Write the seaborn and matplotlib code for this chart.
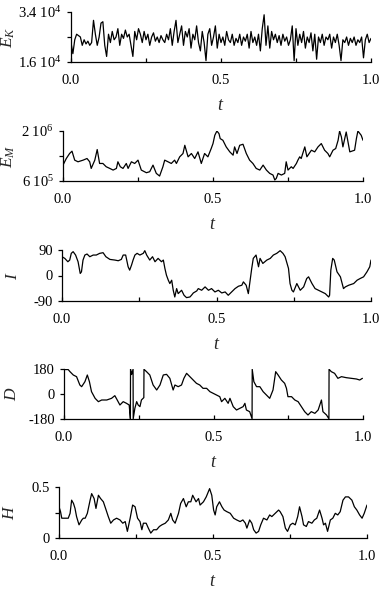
import numpy as np
import pandas as pd
import matplotlib
matplotlib.use("Agg")
import matplotlib.pyplot as plt
import seaborn as sns

sns.set_style("ticks")
plt.rcParams['font.family'] = ['Liberation Serif', 'DejaVu Serif']
plt.rcParams['mathtext.fontset'] = 'custom'
plt.rcParams['mathtext.rm'] = 'Liberation Serif'
plt.rcParams['mathtext.it'] = 'Liberation Serif:italic'

# ---------------- data ----------------
# kinetic energy, units of 1e4, uniformly sampled in t
EK = [2.3, 1.9, 2.4, 2.6, 2.55, 2.5, 2.2, 2.4, 2.25, 2.35,
      2.2, 2.3, 3.1, 2.6, 2.2, 2.5, 3.0, 3.05, 2.2, 1.8,
      2.6, 2.3, 2.7, 2.4, 2.5, 2.8, 2.2, 2.6, 2.45, 2.75,
      2.5, 2.6, 2.2, 1.8, 2.7, 2.4, 2.8, 2.6, 2.3, 2.7,
      2.4, 2.6, 2.2, 2.5, 2.65, 2.35, 2.5, 2.3, 2.55, 2.4,
      2.3, 2.6, 2.4, 2.8, 2.2, 2.7, 3.1, 2.3, 2.6, 2.9,
      2.2, 2.7, 2.5, 2.8, 2.1, 2.6, 2.4, 2.9, 2.3, 2.0,
      2.7, 2.3, 1.65, 2.6, 2.8, 2.2, 2.5, 2.9, 2.1, 2.6,
      2.3, 2.5, 2.2, 2.7, 2.4, 2.3, 2.6, 2.2, 2.45, 2.3,
      2.6, 2.2, 2.5, 2.35, 2.6, 2.1, 2.7, 2.3, 2.5, 2.2,
      2.6, 2.0, 2.8, 3.3, 2.2, 2.9, 2.1, 2.7, 2.4, 2.6,
      2.3, 2.55, 2.2, 2.6, 2.35, 2.5, 2.2, 2.4, 2.9, 1.65,
      2.8, 2.2, 2.6, 2.3, 2.7, 2.1, 2.5, 2.3, 2.65, 2.0,
      2.6, 1.7, 2.5, 2.3, 2.6, 2.2, 2.5, 2.4, 2.6, 2.1,
      2.5, 2.3, 2.6, 2.2, 1.65, 2.4, 2.3, 2.5, 2.2, 2.45,
      2.3, 2.5, 2.2, 2.4, 2.3, 2.5, 1.75, 2.4, 2.6, 2.3,
      2.45]
t_EK = np.linspace(0, 1, len(EK))

# magnetic energy, units of 1e5
t_EM = [0.000, 0.011, 0.022, 0.030, 0.039, 0.050, 0.067, 0.080, 0.089, 0.094,
        0.106, 0.114, 0.122, 0.133, 0.144, 0.156, 0.167, 0.178, 0.183, 0.191,
        0.200, 0.211, 0.217, 0.228, 0.239, 0.250, 0.261, 0.278, 0.289, 0.300,
        0.311, 0.322, 0.333, 0.339, 0.350, 0.361, 0.372, 0.378, 0.389, 0.400,
        0.406, 0.417, 0.428, 0.439, 0.450, 0.461, 0.472, 0.483, 0.494, 0.500,
        0.506, 0.513, 0.520, 0.524, 0.533, 0.544, 0.556, 0.567, 0.572, 0.580,
        0.589, 0.600, 0.611, 0.622, 0.633, 0.644, 0.656, 0.667, 0.678, 0.689,
        0.700, 0.706, 0.711, 0.717, 0.728, 0.739, 0.744, 0.750, 0.761, 0.767,
        0.778, 0.783, 0.789, 0.794, 0.806, 0.813, 0.828, 0.839, 0.850, 0.861,
        0.872, 0.883, 0.889, 0.900, 0.909, 0.917, 0.922, 0.928, 0.933, 0.944,
        0.956, 0.972, 0.978, 0.983, 0.994, 1.000]
EM = [10.45, 12.3, 13.7, 14.35, 11.84, 11.38, 11.84, 12.3, 11.38, 9.52,
      11.84, 14.81, 10.91, 10.91, 9.99, 9.52, 9.06, 9.52, 11.38, 9.99,
      9.52, 10.91, 9.52, 11.38, 10.91, 11.84, 9.06, 8.32, 8.6, 10.45,
      8.13, 7.39, 9.99, 11.84, 11.38, 10.91, 11.84, 10.91, 12.77, 13.7,
      16.0, 12.77, 13.7, 12.3, 14.16, 10.91, 13.7, 12.77, 15.09, 16.48,
      18.8, 20.0, 19.26, 17.87, 17.4, 15.55, 14.16, 13.23, 15.55, 13.7,
      16.0, 16.29, 13.7, 11.84, 10.91, 9.52, 9.06, 10.45, 9.06, 8.13,
      7.67, 6.28, 6.74, 8.13, 7.67, 8.13, 11.38, 9.06, 9.99, 9.52,
      10.91, 11.84, 12.77, 12.3, 15.55, 12.77, 14.62, 14.16, 15.55, 16.48,
      14.62, 13.7, 12.77, 14.62, 15.09, 17.4, 20.0, 18.33, 15.55, 19.72,
      14.16, 14.62, 17.87, 20.0, 18.8, 17.4]

# inclination, degrees
t_I = [0.000, 0.009, 0.019, 0.025, 0.030, 0.036, 0.044, 0.052, 0.059, 0.063,
       0.068, 0.074, 0.081, 0.090, 0.101, 0.111, 0.122, 0.133, 0.142, 0.155,
       0.171, 0.182, 0.192, 0.198, 0.206, 0.214, 0.219, 0.225, 0.230, 0.236,
       0.243, 0.252, 0.263, 0.268, 0.274, 0.284, 0.293, 0.301, 0.311, 0.322,
       0.328, 0.333, 0.338, 0.344, 0.349, 0.355, 0.360, 0.365, 0.371, 0.376,
       0.387, 0.395, 0.403, 0.414, 0.419, 0.425, 0.436, 0.441, 0.452, 0.463,
       0.474, 0.484, 0.495, 0.506, 0.517, 0.528, 0.538, 0.549, 0.560, 0.571,
       0.582, 0.587, 0.596, 0.603, 0.606, 0.614, 0.619, 0.628, 0.636, 0.641,
       0.650, 0.663, 0.674, 0.684, 0.695, 0.706, 0.715, 0.722, 0.733, 0.738,
       0.744, 0.749, 0.760, 0.771, 0.782, 0.792, 0.798, 0.809, 0.819, 0.830,
       0.841, 0.852, 0.863, 0.866, 0.870, 0.876, 0.881, 0.890, 0.901, 0.911,
       0.917, 0.928, 0.944, 0.955, 0.965, 0.976, 0.987, 0.996, 1.000]
I = [66.3, 60.4, 48.6, 54.5, 78.2, 84.1, 72.2, 48.6, 7.1, 13.0,
     54.5, 72.2, 75.8, 66.3, 72.2, 72.2, 78.2, 80.5, 66.3, 56.8,
     54.5, 52.1, 56.8, 72.2, 72.2, 30.8, 19.0, 36.7, 54.5, 72.2,
     78.2, 72.2, 78.2, 87.6, 72.2, 54.5, 66.3, 48.6, 60.4, 48.6,
     54.5, 24.9, 1.2, -16.6, -28.4, -16.6, -52.1, -75.8, -46.2, -63.9,
     -52.1, -69.8, -78.1, -75.8, -69.8, -61.6, -54.5, -46.2, -52.1, -40.2,
     -52.1, -46.2, -58.0, -52.1, -61.6, -58.0, -69.8, -58.0, -46.2, -37.9,
     -34.3, -22.5, -34.3, -63.9, -40.2, 24.9, 60.4, 72.2, 30.8, 60.4,
     42.6, 54.5, 60.4, 72.2, 78.2, 87.6, 78.2, 66.3, 24.9, -28.4,
     -52.1, -58.0, -28.4, -52.1, -40.2, -10.6, -4.7, -28.4, -46.2, -52.1,
     -58.0, -63.9, -75.8, -69.8, 19.0, 60.4, 54.5, 13.0, -4.7, -46.2,
     -40.2, -34.3, -28.4, -16.6, -10.6, -4.7, 13.0, 30.8, 54.5]

# declination, degrees (wraps at +-180)
t_D = [0.000, 0.014, 0.020, 0.031, 0.042, 0.053, 0.059, 0.070, 0.078, 0.085,
       0.092, 0.104, 0.115, 0.126, 0.143, 0.159, 0.170, 0.178, 0.187, 0.198,
       0.209, 0.218, 0.222, 0.2225, 0.226, 0.231, 0.2315, 0.237, 0.243, 0.248,
       0.254, 0.259, 0.267, 0.2675, 0.276, 0.287, 0.298, 0.310, 0.321, 0.332,
       0.343, 0.354, 0.365, 0.371, 0.382, 0.393, 0.401, 0.410, 0.421, 0.432,
       0.443, 0.454, 0.465, 0.477, 0.488, 0.499, 0.510, 0.521, 0.527, 0.538,
       0.549, 0.555, 0.566, 0.577, 0.588, 0.599, 0.605, 0.610, 0.621, 0.629,
       0.6295, 0.635, 0.644, 0.655, 0.666, 0.677, 0.688, 0.699, 0.708, 0.716,
       0.727, 0.738, 0.744, 0.749, 0.761, 0.772, 0.783, 0.794, 0.805, 0.816,
       0.827, 0.839, 0.850, 0.861, 0.866, 0.878, 0.886, 0.8865, 0.894, 0.905,
       0.916, 0.928, 0.944, 0.961, 0.978, 0.989, 0.998]
D = [176, 176, 160.8, 136.8, 124.8, 64.8, 52.8, 88.8, 136.8, 88.8,
     16.8, -31.2, -55.2, -43.2, -43.2, -31.2, -12, -43.2, -79.2, -55.2,
     -67.2, -79.2, -178, 178, 140, 178, -178, -103, -55, -79,
     -91, -43, -26, 178, 160.8, 136.8, 64.8, 28.8, 64.8, 136.8,
     141.6, 112.8, 28.8, 64.8, 52.8, 64.8, 112.8, 148.8, 124.8, 100.8,
     76.8, 64.8, 40.8, 40.8, 16.8, 4.8, -7.2, -19.2, -55.2, -31.2,
     -67.2, -31.2, -91.2, -115.2, -103.2, -91.2, -67.2, -115.2, -127.2, -178,
     178, 88.8, 52.8, 52.8, 16.8, -7.2, -31.2, 28.8, 160.8, 136.8,
     100.8, 76.8, 40.8, -19.2, -19.2, -43.2, -55.2, -91.2, -127.2, -151.2,
     -127.2, -139.2, -115.2, -43.2, -127.2, -151.2, -178, 178, 160.8, 148.8,
     112.8, 124.8, 117.6, 112.8, 108, 100.8, 112.8]

# horizontal intensity
t_H = [0.000, 0.005, 0.009, 0.020, 0.030, 0.036, 0.041, 0.047, 0.052, 0.057,
       0.065, 0.074, 0.079, 0.085, 0.092, 0.101, 0.106, 0.114, 0.120, 0.128,
       0.135, 0.144, 0.153, 0.160, 0.168, 0.177, 0.187, 0.198, 0.207, 0.215,
       0.222, 0.231, 0.239, 0.247, 0.255, 0.263, 0.269, 0.274, 0.283, 0.290,
       0.298, 0.307, 0.317, 0.326, 0.334, 0.345, 0.355, 0.363, 0.369, 0.377,
       0.388, 0.395, 0.404, 0.413, 0.420, 0.428, 0.434, 0.445, 0.453, 0.458,
       0.469, 0.478, 0.489, 0.496, 0.502, 0.507, 0.512, 0.521, 0.529, 0.536,
       0.545, 0.556, 0.567, 0.577, 0.588, 0.597, 0.605, 0.610, 0.619, 0.626,
       0.632, 0.640, 0.648, 0.655, 0.664, 0.675, 0.684, 0.691, 0.702, 0.713,
       0.718, 0.727, 0.735, 0.742, 0.751, 0.759, 0.767, 0.775, 0.781, 0.789,
       0.794, 0.803, 0.810, 0.821, 0.829, 0.837, 0.846, 0.854, 0.859, 0.865,
       0.872, 0.881, 0.889, 0.897, 0.905, 0.913, 0.922, 0.930, 0.940, 0.951,
       0.959, 0.967, 0.976, 0.984, 0.991, 1.000]
H = [0.306, 0.258, 0.194, 0.194, 0.194, 0.242, 0.371, 0.339, 0.290, 0.210,
     0.129, 0.177, 0.194, 0.194, 0.242, 0.371, 0.435, 0.387, 0.290, 0.419,
     0.387, 0.355, 0.274, 0.210, 0.145, 0.177, 0.194, 0.177, 0.145, 0.161,
     0.065, 0.194, 0.323, 0.306, 0.194, 0.161, 0.081, 0.145, 0.145, 0.097,
     0.048, 0.081, 0.081, 0.113, 0.129, 0.145, 0.177, 0.242, 0.177, 0.145,
     0.242, 0.339, 0.387, 0.306, 0.355, 0.355, 0.419, 0.355, 0.387, 0.323,
     0.355, 0.403, 0.484, 0.419, 0.274, 0.226, 0.306, 0.355, 0.306, 0.274,
     0.258, 0.242, 0.194, 0.177, 0.161, 0.177, 0.145, 0.097, 0.177, 0.145,
     0.081, 0.048, 0.065, 0.129, 0.194, 0.177, 0.226, 0.210, 0.242, 0.274,
     0.258, 0.210, 0.097, 0.065, 0.129, 0.145, 0.129, 0.210, 0.306, 0.210,
     0.129, 0.113, 0.161, 0.145, 0.177, 0.194, 0.274, 0.194, 0.129, 0.145,
     0.065, 0.177, 0.194, 0.242, 0.226, 0.258, 0.371, 0.403, 0.403, 0.371,
     0.306, 0.274, 0.226, 0.194, 0.242, 0.323]

x_ticks = [0.0, 0.25, 0.5, 0.75, 1.0]
x_ticklabels = ["0.0", "", "0.5", "", "1.0"]

# ---------------- figure ----------------
W, Hpx = 383, 592
fig = plt.figure(figsize=(W / 100, Hpx / 100), dpi=100)

panels = [
    dict(t=t_EK, v=np.array(EK) * 1e4, lim=(1.6e4, 3.4e4),
         yt=[1.6e4, 2.5e4, 3.4e4], ytl=["1.6 10$^4$", "", "3.4 10$^4$"],
         lab="$E_K$", box=(71, 371, 12, 62), labx=17),
    dict(t=t_EM, v=np.array(EM) * 1e5, lim=(6e5, 2e6),
         yt=[6e5, 1.3e6, 2e6], ytl=["6 10$^5$", "", "2 10$^6$"],
         lab="$E_M$", box=(63, 363, 131, 181), labx=17),
    dict(t=t_I, v=I, lim=(-90, 90),
         yt=[-90, 0, 90], ytl=["-90", "0", "90"],
         lab="$I$", box=(62, 371, 250, 301), labx=21),
    dict(t=t_D, v=D, lim=(-180, 180),
         yt=[-180, 0, 180], ytl=["-180", "0", "180"],
         lab="$D$", box=(64, 363, 369, 419), labx=20),
    dict(t=t_H, v=H, lim=(0, 0.5),
         yt=[0, 0.25, 0.5], ytl=["0", "", "0.5"],
         lab="$H$", box=(59, 367, 487, 538), labx=18),
]

for p in panels:
    l, r, tp, bt = p["box"]
    ax = fig.add_axes([l / W, 1 - bt / Hpx, (r - l) / W, (bt - tp) / Hpx])
    df = pd.DataFrame({"t": p["t"], "v": p["v"]})
    sns.lineplot(data=df, x="t", y="v", ax=ax, color="black", linewidth=0.9,
                 sort=False, estimator=None)
    ax.set_xlim(0, 1)
    ax.set_ylim(*p["lim"])
    for s in ["top", "right"]:
        ax.spines[s].set_visible(False)
    for s in ["left", "bottom"]:
        ax.spines[s].set_linewidth(0.9)
        ax.spines[s].set_color("black")
    ax.set_xticks(x_ticks)
    ax.set_xticklabels(x_ticklabels)
    ax.set_yticks(p["yt"])
    ax.set_yticklabels(p["ytl"])
    ax.tick_params(axis="x", direction="in", length=3, width=0.9,
                   labelsize=10.5, pad=8.5, colors="black")
    ax.tick_params(axis="y", direction="out", length=3, width=0.9,
                   labelsize=10.5, pad=3.5, colors="black")
    ax.set_xlabel("$t$", fontsize=13)
    ax.set_ylabel(p["lab"], fontsize=12.5)
    ax.xaxis.set_label_coords(0.5, -(35) / (bt - tp))
    ax.yaxis.set_label_coords((p["labx"] - l) / (r - l), 0.5)

fig.savefig("out.png", dpi=100)
